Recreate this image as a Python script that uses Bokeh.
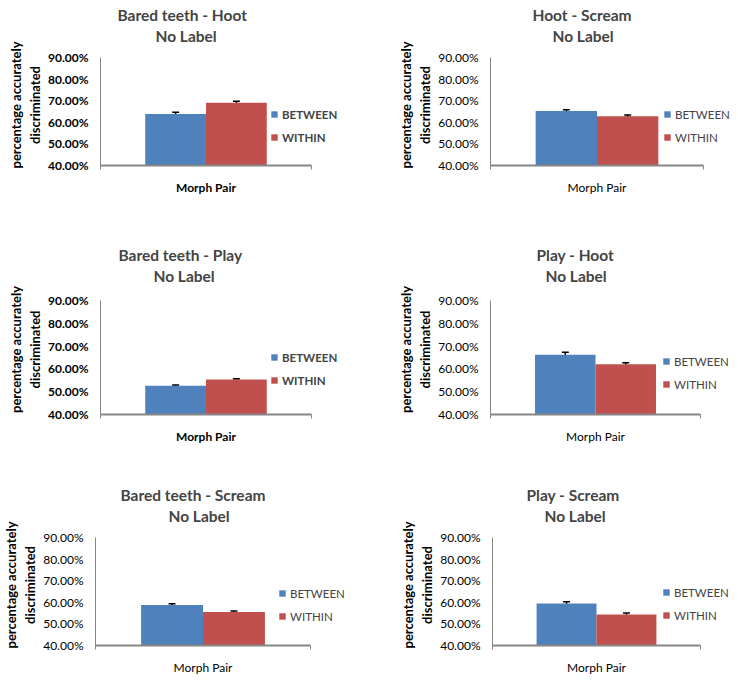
from bokeh.plotting import figure
from bokeh.models import (Range1d, Legend, LegendItem, Whisker, CustomJSTickFormatter,
                          ColumnDataSource, NumeralTickFormatter, FixedTicker, Title)
from bokeh.transform import dodge
from bokeh.layouts import column, row
from bokeh.embed import file_html
from bokeh.resources import INLINE

# ---------------- data ----------------
titles = ["Bared teeth - Hoot", "Hoot - Scream", "Bared teeth - Play",
          "Play - Hoot", "Bared teeth - Scream", "Play - Scream"]
subtitle = "No Label"
category = ["Morph Pair"]
series_names = ["BETWEEN", "WITHIN"]
between = [63.9, 65.2, 52.6, 66.2, 58.7, 59.4]
within = [69.1, 62.8, 55.3, 62.0, 55.5, 54.3]
between_err = [0.8, 0.6, 0.3, 1.1, 0.6, 0.9]
within_err = [0.7, 0.6, 0.4, 0.7, 0.5, 0.8]
y_ticks = [0.40, 0.50, 0.60, 0.70, 0.80, 0.90]
y_label = "percentage accurately\ndiscriminated"

# ---------------- layout / style ----------------
BLUE = "#4F81BD"
RED = "#C0504D"
AXIS = "#868686"
FONT = "Lato"
BAR_W = 0.288
TOP = 44  # space reserved for the two title lines

# width, height, border left, extra frame above the axis top (px),
# x-axis width, frame width, y-axis height,
# legend x, legend y (from frame bottom-left), title offsets (line 1, line 2),
# weight of the small texts
layout = [
    (373, 240, 100, 13, 211, 245, 108, 170, 20, 17, 55, "bold"),
    (365, 240, 117, 13, 213, 243, 108, 173, 20, 42, 62, "normal"),
    (373, 240, 100, 16, 211, 245, 114, 170, 26, 18, 53, "bold"),
    (365, 240, 117, 16, 210, 243, 114, 172, 22, 46, 55, "normal"),
    (373, 202, 95, 13, 215, 255, 108, 183, 21, 25, 73, "normal"),
    (365, 202, 119, 13, 208, 241, 108, 170, 22, 34, 52, "normal"),
]


def make_panel(i):
    w, h, bl, ex, fa, fw, fya, lx, ly, t1, t2, wt = layout[i]
    n = len(category)
    fh = fya + ex
    y0, y1 = y_ticks[0], y_ticks[-1]
    p = figure(width=w, height=h, x_range=Range1d(0, n * fw / fa),
               y_range=Range1d(y0, y1 + (y1 - y0) * ex / fya),
               output_backend="svg", toolbar_location=None,
               min_border_left=bl, min_border_top=TOP,
               min_border_right=w - bl - fw, min_border_bottom=h - TOP - fh)
    p.outline_line_color = None
    p.xgrid.visible = False
    p.ygrid.visible = False

    src = ColumnDataSource(dict(
        pos=[k + 0.5 for k in range(n)],
        b=[between[i] / 100], w=[within[i] / 100],
        b_up=[(between[i] + between_err[i]) / 100],
        b_lo=[(between[i] - between_err[i]) / 100],
        w_up=[(within[i] + within_err[i]) / 100],
        w_lo=[(within[i] - within_err[i]) / 100],
    ))
    rb = p.vbar(x=dodge("pos", -BAR_W / 2), top="b", width=BAR_W,
                source=src, fill_color=BLUE, line_color=None)
    rr = p.vbar(x=dodge("pos", BAR_W / 2), top="w", width=BAR_W,
                source=src, fill_color=RED, line_color=None)

    for base, up, lo in ((dodge("pos", -BAR_W / 2), "b_up", "b_lo"),
                         (dodge("pos", BAR_W / 2), "w_up", "w_lo")):
        wh = Whisker(source=src, base=base, upper=up, lower=lo,
                     line_color="black", line_width=1.5)
        for head in (wh.upper_head, wh.lower_head):
            head.size = 7
            head.line_color = "black"
            head.line_width = 1.5
        p.add_layout(wh)

    # y axis (line limited to the tick span)
    ya = p.yaxis[0]
    ya.bounds = (y0, y1)
    ya.ticker = FixedTicker(ticks=y_ticks)
    ya.formatter = NumeralTickFormatter(format="0.00%")
    ya.major_tick_line_color = None
    ya.minor_tick_line_color = None
    ya.major_tick_out = 0
    ya.major_tick_in = 0
    ya.minor_tick_out = 0
    ya.axis_line_color = AXIS
    ya.axis_line_width = 1
    ya.major_label_standoff = 12
    ya.major_label_text_font = FONT
    ya.major_label_text_font_size = "12px"
    ya.major_label_text_font_style = wt
    ya.major_label_text_color = "black"
    ya.axis_label = y_label
    ya.axis_label_text_font = FONT
    ya.axis_label_text_font_size = "13px"
    ya.axis_label_text_font_style = "bold"
    ya.axis_label_text_color = "black"
    ya.axis_label_standoff = 2

    # x axis: category label at the centre, small ticks at the category edges
    xa = p.xaxis[0]
    xa.bounds = (0, n)
    xa.ticker = FixedTicker(ticks=[k + 0.5 for k in range(n)],
                            minor_ticks=list(range(n + 1)))
    xa.formatter = CustomJSTickFormatter(args=dict(labels=category),
                                         code="return labels[Math.floor(tick)];")
    xa.axis_line_color = AXIS
    xa.axis_line_width = 2
    xa.major_tick_line_color = None
    xa.major_tick_out = 0
    xa.major_tick_in = 0
    xa.minor_tick_line_color = AXIS
    xa.minor_tick_line_width = 1
    xa.minor_tick_out = 4
    xa.minor_tick_in = 0
    xa.major_label_standoff = 10
    xa.major_label_text_font = FONT
    xa.major_label_text_font_size = "12px"
    xa.major_label_text_font_style = wt
    xa.major_label_text_color = "black"

    # legend inside the (widened) frame
    leg = Legend(items=[LegendItem(label=series_names[0], renderers=[rb]),
                        LegendItem(label=series_names[1], renderers=[rr])],
                 location=(lx, ly), padding=0, margin=0, spacing=7,
                 glyph_width=8, glyph_height=8, label_height=16, label_standoff=4,
                 label_text_font=FONT, label_text_font_size="11.5px",
                 label_text_font_style=wt,
                 border_line_color=None, background_fill_alpha=0)
    p.add_layout(leg)

    # titles (two lines)
    p.add_layout(Title(text=subtitle, align="left", offset=t2, standoff=0,
                       text_font=FONT, text_font_size="15.5px", text_font_style="bold"), "above")
    p.add_layout(Title(text=titles[i], align="left", offset=t1, standoff=1,
                       text_font=FONT, text_font_size="15.5px", text_font_style="bold"), "above")
    return p


panels = [make_panel(i) for i in range(6)]
page = column(row(panels[0], panels[1]),
              row(panels[2], panels[3]),
              row(panels[4], panels[5]))

open("out.html", "w").write(file_html(page, INLINE))
